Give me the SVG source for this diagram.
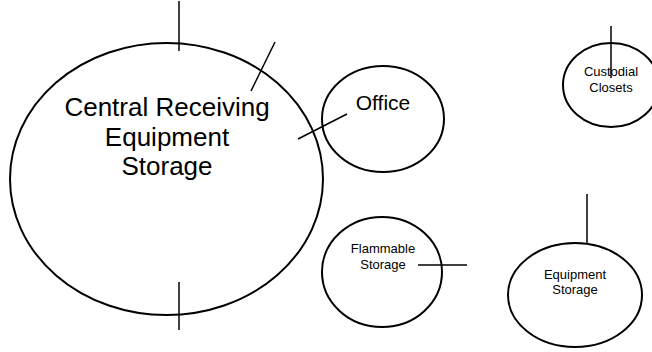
<svg xmlns="http://www.w3.org/2000/svg" width="652" height="352" viewBox="0 0 652 352">
<style>
.node{fill:#fff;stroke:#000;stroke-width:2}
.conn line{stroke:#000;stroke-width:1.5}
text{font-family:"Liberation Sans",Arial,sans-serif;fill:#000;text-anchor:middle}
.big{font-size:26px}
.mid{font-size:21px}
.sm{font-size:13px}
</style>
<rect width="652" height="352" fill="#fff"/>
<g id="central">
<ellipse class="node" cx="166.5" cy="179" rx="156.5" ry="136"/>
<text class="big" x="167" y="116">Central Receiving</text>
<text class="big" x="167" y="146">Equipment</text>
<text class="big" x="167" y="175">Storage</text>
</g>
<g id="office">
<ellipse class="node" cx="383" cy="119" rx="61" ry="53"/>
<text class="mid" x="383" y="110">Office</text>
</g>
<g id="custodial">
<ellipse class="node" cx="611" cy="85" rx="48" ry="42"/>
<text class="sm" x="611" y="76">Custodial</text>
<text class="sm" x="611" y="92">Closets</text>
</g>
<g id="flammable">
<ellipse class="node" cx="382" cy="272" rx="60" ry="55"/>
<text class="sm" x="383" y="253">Flammable</text>
<text class="sm" x="383" y="269">Storage</text>
</g>
<g id="equipment">
<ellipse class="node" cx="575" cy="295" rx="67" ry="52"/>
<text class="sm" x="575" y="279">Equipment</text>
<text class="sm" x="575" y="294">Storage</text>
</g>
<g id="connectors" class="conn">
<line x1="179" y1="1" x2="179" y2="51"/>
<line x1="179" y1="282" x2="179" y2="330"/>
<line x1="275" y1="42" x2="251" y2="91"/>
<line x1="298" y1="139" x2="347" y2="114"/>
<line x1="611" y1="26" x2="611" y2="78"/>
<line x1="418" y1="265" x2="467" y2="265"/>
<line x1="587" y1="194" x2="587" y2="243"/>
</g>
</svg>
